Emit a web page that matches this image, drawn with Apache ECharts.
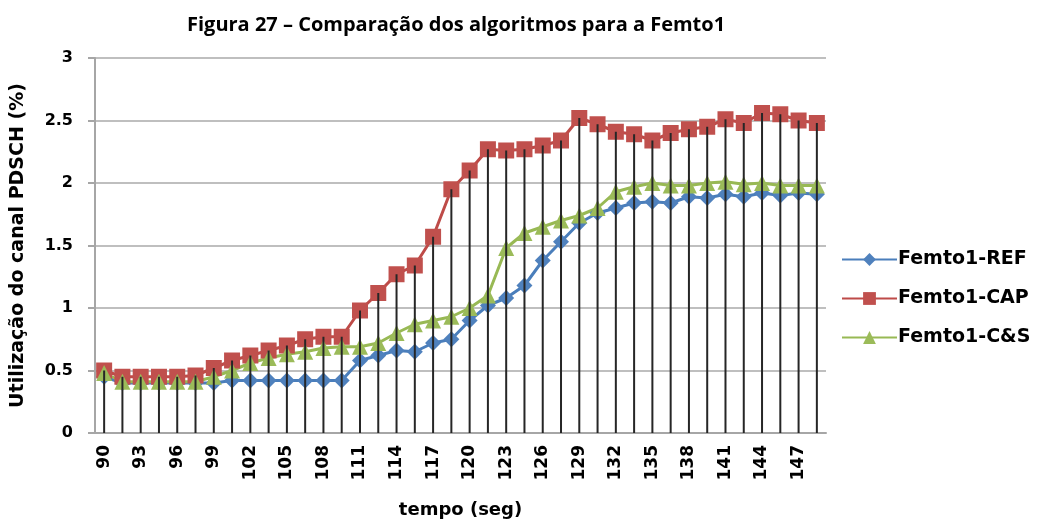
<!DOCTYPE html>
<html>
<head>
<meta charset="utf-8">
<script src="https://cdn.jsdelivr.net/npm/echarts@6/dist/echarts.min.js"></script>
<style>
  html, body { margin: 0; padding: 0; background: #fff; }
  #chart { width: 1045px; height: 524px; }
</style>
</head>
<body>
<div id="chart"></div>
<script>
// tempo (seg), one sample every 1.5 s
const tempo = ['90','91.5','93','94.5','96','97.5','99','100.5','102','103.5',
  '105','106.5','108','109.5','111','112.5','114','115.5','117','118.5',
  '120','121.5','123','124.5','126','127.5','129','130.5','132','133.5',
  '135','136.5','138','139.5','141','142.5','144','145.5','147','148.5'];

const femtoRef = [0.45,0.40,0.40,0.40,0.40,0.40,0.40,0.42,0.42,0.42,
  0.42,0.42,0.42,0.42,0.58,0.62,0.66,0.65,0.72,0.75,
  0.90,1.02,1.08,1.18,1.38,1.53,1.68,1.76,1.80,1.84,
  1.85,1.84,1.89,1.88,1.91,1.89,1.92,1.90,1.92,1.91];

const femtoCap = [0.50,0.45,0.45,0.45,0.45,0.46,0.52,0.58,0.62,0.66,
  0.70,0.75,0.77,0.77,0.98,1.12,1.27,1.34,1.57,1.95,
  2.10,2.27,2.26,2.27,2.30,2.34,2.52,2.47,2.41,2.39,
  2.34,2.40,2.43,2.45,2.51,2.48,2.56,2.55,2.50,2.48];

const femtoCS = [0.48,0.41,0.41,0.41,0.41,0.41,0.45,0.50,0.56,0.60,
  0.63,0.65,0.68,0.69,0.69,0.72,0.80,0.87,0.90,0.93,
  1.00,1.10,1.48,1.60,1.65,1.70,1.74,1.80,1.93,1.97,
  2.00,1.98,1.98,2.00,2.01,1.99,2.00,1.98,1.98,1.98];

// drop lines go from the highest point down to the axis
const dropLines = tempo.map((t, i) => Math.max(femtoRef[i], femtoCap[i], femtoCS[i]));

const chart = echarts.init(document.getElementById('chart'));
const bold = { fontFamily: 'DejaVu Sans', fontWeight: 'bold', color: '#000' };

chart.setOption({
  animation: false,
  title: {
    text: 'Figura 27 – Comparação dos algoritmos para a Femto1',
    left: 182,
    top: 10,
    textStyle: { fontFamily: 'Open Sans', fontWeight: 'bold', fontSize: 20, color: '#000' }
  },
  legend: {
    data: ['Femto1-REF', 'Femto1-CAP', 'Femto1-C&S'],
    orient: 'vertical',
    left: 836,
    top: 245,
    itemWidth: 55,
    itemHeight: 16,
    itemGap: 20,
    textStyle: Object.assign({ fontSize: 19, padding: [0, 0, 0, -4] }, bold)
  },
  grid: { left: 95, right: 219, top: 58, bottom: 89 },
  xAxis: {
    type: 'category',
    data: tempo,
    boundaryGap: true,
    name: 'tempo (seg)',
    nameLocation: 'middle',
    nameGap: 68,
    nameTextStyle: Object.assign({ fontSize: 18 }, bold),
    axisLine: { lineStyle: { color: '#a6a6a6', width: 2 } },
    axisTick: { show: false },
    axisLabel: Object.assign({ interval: 1, rotate: 90, fontSize: 17, margin: 12 }, bold)
  },
  yAxis: {
    type: 'value',
    min: 0,
    max: 3,
    interval: 0.5,
    name: 'Utilização do canal PDSCH (%)',
    nameLocation: 'middle',
    nameGap: 67,
    nameTextStyle: Object.assign({ fontSize: 19 }, bold),
    axisLine: { show: true, lineStyle: { color: '#a6a6a6', width: 2 } },
    axisTick: { show: true, length: 7, lineStyle: { color: '#a6a6a6', width: 2 } },
    splitLine: { lineStyle: { color: '#bfbfbf', width: 2 } },
    axisLabel: Object.assign({ fontSize: 16, margin: 22 }, bold)
  },
  series: [
    {
      name: 'Femto1-REF',
      type: 'line',
      data: femtoRef,
      symbol: 'diamond',
      symbolSize: 16,
      showAllSymbol: true,
      lineStyle: { color: '#4a7ebb', width: 3 },
      itemStyle: { color: '#4f81bd' },
      z: 2
    },
    {
      name: 'Femto1-CAP',
      type: 'line',
      data: femtoCap,
      symbol: 'rect',
      symbolSize: 16,
      showAllSymbol: true,
      lineStyle: { color: '#be4b48', width: 3 },
      itemStyle: { color: '#c0504d' },
      z: 2
    },
    {
      name: 'Femto1-C&S',
      type: 'line',
      data: femtoCS,
      symbol: 'triangle',
      symbolSize: 16,
      showAllSymbol: true,
      lineStyle: { color: '#98b954', width: 3 },
      itemStyle: { color: '#9bbb59' },
      z: 2
    },
    {
      name: 'drop',
      type: 'bar',
      data: dropLines,
      barWidth: 2,
      itemStyle: { color: '#262626' },
      silent: true,
      z: 3
    }
  ]
});
</script>
</body>
</html>
